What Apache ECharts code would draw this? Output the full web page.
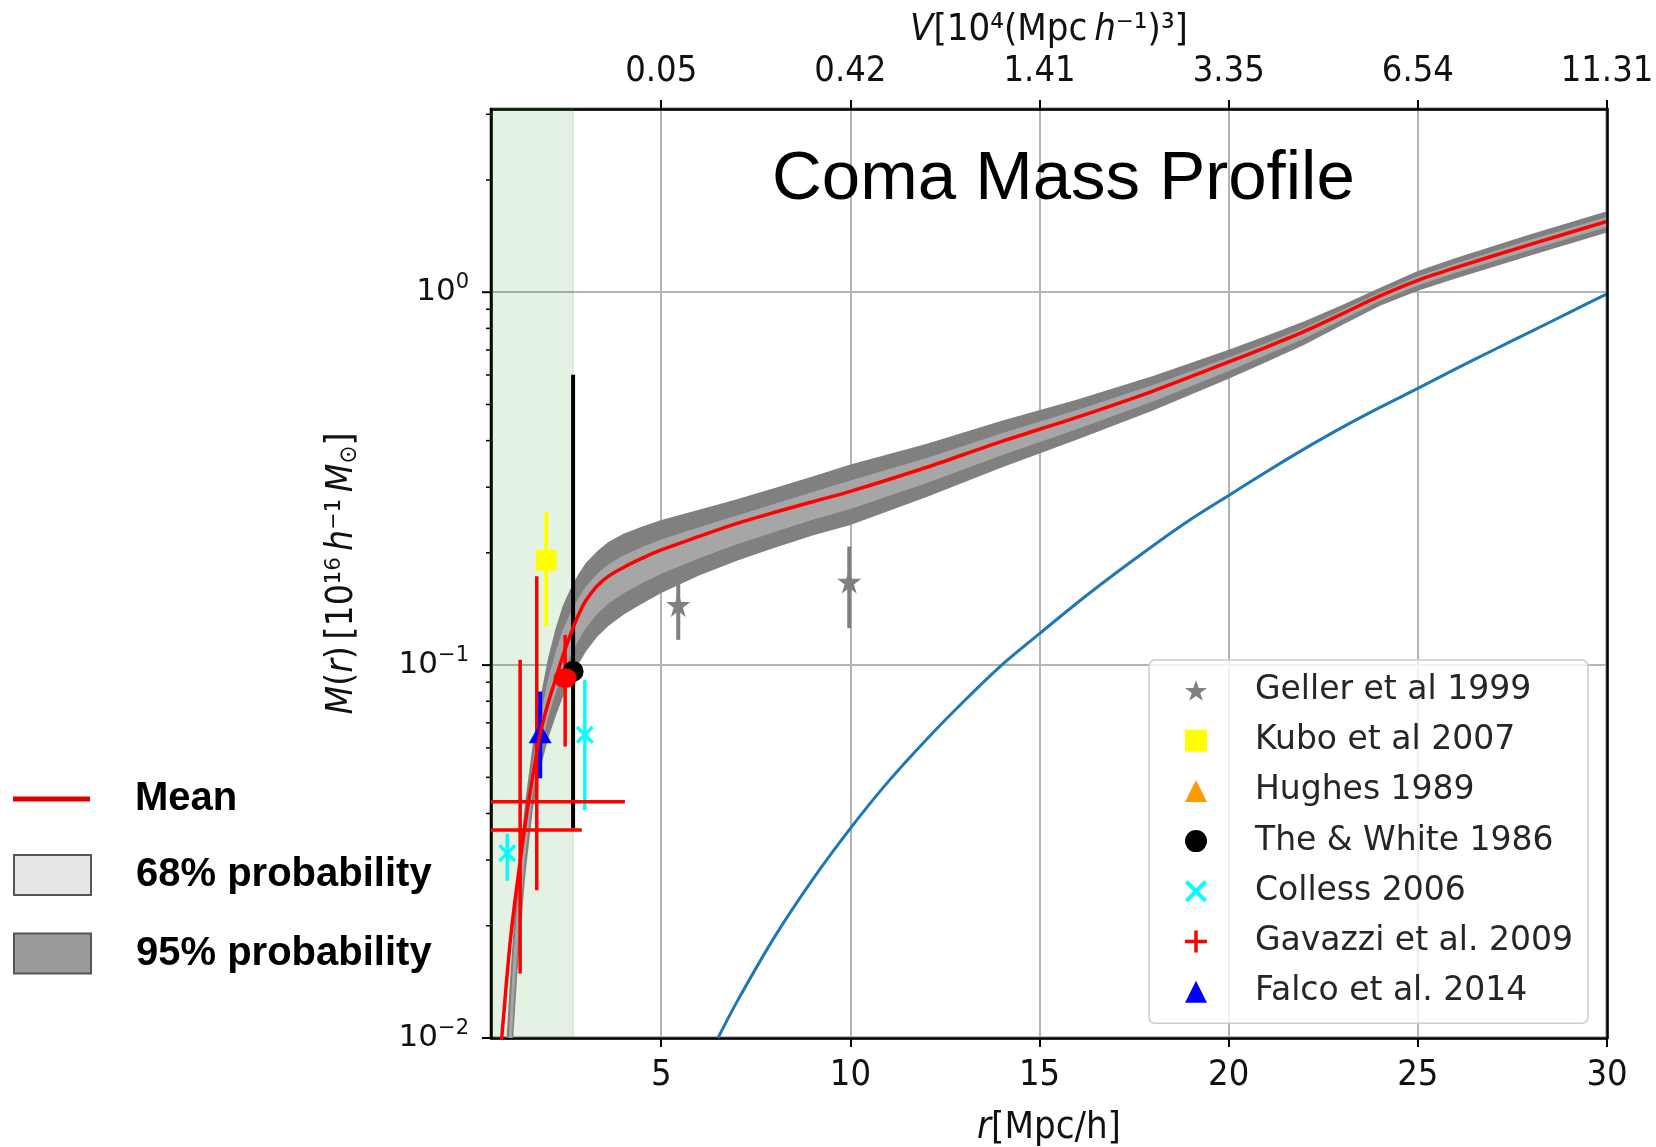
<!DOCTYPE html>
<html><head><meta charset="utf-8">
<script src="https://cdn.jsdelivr.net/npm/echarts@6/dist/echarts.min.js"></script>
<style>html,body{margin:0;padding:0;background:#fff}#c{width:1656px;height:1147px}</style>
</head><body><div id="c"></div>
<script>
// ---------- data ----------
const rGrid   = [0.75,0.85,0.9,1.0,1.1,1.2,1.4,1.6,1.8,2.0,2.2,2.4,2.6,2.8,3.0,3.3,3.6,4.0,4.5,5,6,7,8,9,10,12,14,16,18,20,21,22,23,24,25,26,28,30];
const meanMass = [0.00912,0.0120,0.0138,0.0178,0.0219,0.0263,0.0372,0.0501,0.0653,0.0785,0.0912,0.1059,0.1208,0.1355,0.1486,0.1629,0.173,0.1828,0.1936,0.2037,0.2213,0.2399,0.257,0.2742,0.2924,0.3388,0.3981,0.4624,0.5433,0.6501,0.7129,0.7852,0.875,0.9772,1.076,1.164,1.346,1.549];
const hi95 = [0.00447,0.00759,0.00955,0.01413,0.01995,0.02692,0.04266,0.06095,0.08128,0.1035,0.1245,0.1445,0.1603,0.1746,0.1875,0.2018,0.2138,0.2249,0.2355,0.2449,0.2612,0.2786,0.2985,0.3206,0.3451,0.3917,0.4519,0.5152,0.5957,0.7015,0.7638,0.8356,0.9247,1.028,1.140,1.236,1.432,1.648];
const lo95 = [0.00126,0.00251,0.00355,0.00631,0.01047,0.01514,0.02692,0.04074,0.05248,0.0631,0.07244,0.08222,0.0912,0.1,0.1084,0.1189,0.1274,0.1365,0.1462,0.156,0.1738,0.1905,0.2065,0.2228,0.2377,0.2818,0.3388,0.4027,0.4819,0.5861,0.6501,0.7228,0.8166,0.9204,1.009,1.089,1.256,1.445];
const hi68 = [0.00319,0.00566,0.00735,0.0114,0.01683,0.02312,0.03776,0.05483,0.07244,0.09078,0.1079,0.1245,0.138,0.1507,0.1622,0.1754,0.1862,0.1968,0.2075,0.2173,0.2344,0.2518,0.271,0.2911,0.3126,0.3589,0.4188,0.4831,0.5636,0.6683,0.7311,0.8035,0.8954,0.9977,1.104,1.194,1.384,1.592];
const lo68 = [0.00176,0.00337,0.00461,0.00782,0.01242,0.01762,0.03041,0.04529,0.05888,0.07194,0.08356,0.0955,0.1059,0.1159,0.1253,0.1368,0.1462,0.1556,0.166,0.1758,0.1936,0.2109,0.2275,0.2455,0.2624,0.3076,0.3656,0.4295,0.5093,0.6152,0.6792,0.7516,0.8433,0.9484,1.042,1.127,1.300,1.496];

const blueR    = [6.5,7,8,9,10,11,12,13,14,15,16,17,18,19,20,21,22,23,24,25,26,27,28,29,30];
const blueMass = [0.0100,0.0125,0.0187,0.0266,0.0365,0.0487,0.063,0.080,0.100,0.1215,0.147,0.176,0.209,0.246,0.285,0.330,0.380,0.434,0.491,0.552,0.623,0.700,0.785,0.882,0.99];

// error-bar points: [r, M, Mlow, Mhigh, rlow, rhigh]
const geller  = [[5.45,0.145,0.1169,0.1675],[9.97,0.1675,0.1256,0.208]];
const kubo    = [[1.96,0.191,0.127,0.257]];
const hughes  = [];
const theWhite= [[2.67,0.0962,0.0365,0.601]];
const colless = [[0.93,0.0313,0.0264,0.0353],[2.98,0.065,0.0409,0.0913]];
const gavazzi = [[1.27,0.0361,0.0149,0.1033,-0.36,2.9],[1.71,0.043,0.0249,0.173,-0.62,4.04]];
const gavazziDot = [[2.46,0.0922,0.0605,0.1205]];
const falco   = [[1.80,0.0657,0.0497,0.0849]];

const greenSpan = [0.5, 2.67];
const xMin = 0.5, xMax = 30, yMin = 0.01, yMax = 3.1;
const xTicks = [5,10,15,20,25,30];
const topTickLabels = ['0.05','0.42','1.41','3.35','6.54','11.31'];
const yMinorTicks = [0.02,0.03,0.04,0.05,0.06,0.07,0.08,0.09,0.2,0.3,0.4,0.5,0.6,0.7,0.8,0.9,2,3];
const yMajorTicks = [0.01,0.1,1];

// ---------- helpers ----------
const COND = "'DejaVu Sans Condensed','DejaVu Sans',sans-serif";
const STAR = 'path://M50,2 L61.8,36.2 L97.6,36.2 L68.6,57.4 L79.4,91.6 L50,70.4 L20.6,91.6 L31.4,57.4 L2.4,36.2 L38.2,36.2 Z';
const XMARK = 'path://M13,0 L50,37 L87,0 L100,13 L63,50 L100,87 L87,100 L50,63 L13,100 L0,87 L37,50 L0,13 Z';
const PLUS = 'path://M42,0 L58,0 L58,42 L100,42 L100,58 L58,58 L58,100 L42,100 L42,58 L0,58 L0,42 L42,42 Z';

function bandSeries(name, lo, hi, color) {
  return {
    name, type: 'custom', clip: true, silent: true,
    data: rGrid.map((r, i) => [r, lo[i], hi[i]]),
    encode: {x: 0, y: [1, 2]},
    renderItem: (params, api) => {
      if (params.dataIndex !== 0) return null;
      const pts = [];
      for (let i = 0; i < rGrid.length; i++) pts.push(api.coord([rGrid[i], hi[i]]));
      for (let i = rGrid.length - 1; i >= 0; i--) pts.push(api.coord([rGrid[i], lo[i]]));
      return {type: 'polygon', shape: {points: pts}, style: {fill: color}};
    }
  };
}
function errSeries(name, rows, color, width) {
  return {
    name, type: 'custom', clip: true, silent: true,
    data: rows.map(d => [d[0], d[1]]),
    encode: {x: 0, y: 1},
    renderItem: (params, api) => {
      const d = rows[params.dataIndex];
      const a = api.coord([d[0], d[2]]), b = api.coord([d[0], d[3]]);
      const ch = [{type: 'line', shape: {x1: a[0], y1: a[1], x2: b[0], y2: b[1]}, style: {stroke: color, lineWidth: width}}];
      if (d.length > 4) {
        const c = api.coord([d[4], d[1]]), e = api.coord([d[5], d[1]]);
        ch.push({type: 'line', shape: {x1: c[0], y1: c[1], x2: e[0], y2: e[1]}, style: {stroke: color, lineWidth: width}});
      }
      return {type: 'group', children: ch};
    }
  };
}
function markSeries(name, rows, symbol, size, color) {
  return {
    name, type: 'scatter', silent: true, symbol, symbolSize: size,
    data: rows.map(d => [d[0], d[1]]),
    itemStyle: {color, opacity: 1}
  };
}
const LEFT_FONT = {fontFamily: "'Liberation Sans',Arial,sans-serif", fontWeight: 'bold', fontSize: 40, color: '#000', padding: [0, 0, 0, 40]};

const chart = echarts.init(document.getElementById('c'));
chart.setOption({
  animation: false,
  backgroundColor: '#fff',
  title: {
    text: 'Coma Mass Profile', left: 772, top: 145, padding: 0,
    textStyle: {fontFamily: "'Liberation Sans',Arial,sans-serif", fontSize: 69, fontWeight: 'normal', color: '#000'}
  },
  grid: {left: 491, top: 109, width: 1116, height: 929, containLabel: false, outerBoundsMode: 'none',
         show: true, borderColor: '#000', borderWidth: 2.5, backgroundColor: 'transparent'},
  legend: [
    {
      orient: 'vertical', left: 1149, top: 660, padding: [14, 15, 15, 36],
      itemWidth: 22, itemHeight: 22, itemGap: 17.2, selectedMode: false,
      backgroundColor: 'rgba(255,255,255,0.8)', borderColor: '#cccccc', borderWidth: 1.5, borderRadius: 6,
      textStyle: {fontFamily: "'DejaVu Sans',sans-serif", fontSize: 33, color: '#262626', padding: [0, 0, 0, 43]},
      data: [
        {name: 'Geller et al 1999', icon: STAR, itemStyle: {color: '#808080', borderWidth: 0}},
        {name: 'Kubo et al 2007', icon: 'rect', itemStyle: {color: '#ffff00', borderWidth: 0}},
        {name: 'Hughes 1989', icon: 'triangle', itemStyle: {color: '#ff9900', borderWidth: 0}},
        {name: 'The & White 1986', icon: 'circle', itemStyle: {color: '#000000', borderWidth: 0}},
        {name: 'Colless 2006', icon: XMARK, itemStyle: {color: '#00ffff', borderWidth: 0}},
        {name: 'Gavazzi et al. 2009', icon: PLUS, itemStyle: {color: '#ff0000', borderWidth: 0}},
        {name: 'Falco et al. 2014', icon: 'triangle', itemStyle: {color: '#0000ff', borderWidth: 0}}
      ]
    },
    {
      orient: 'vertical', left: 13, top: 779, padding: 0,
      itemWidth: 77, itemHeight: 5, selectedMode: false,
      textStyle: LEFT_FONT,
      data: [{name: 'Mean', icon: 'rect', itemStyle: {color: '#e00000', borderWidth: 0}}]
    },
    {
      orient: 'vertical', left: 13, top: 854, padding: 0,
      itemWidth: 77, itemHeight: 40, itemGap: 36.5, selectedMode: false,
      textStyle: LEFT_FONT,
      data: [
        {name: '68% probability', icon: 'rect', itemStyle: {color: '#e6e6e6', borderColor: '#555', borderWidth: 2}},
        {name: '95% probability', icon: 'rect', itemStyle: {color: '#999999', borderColor: '#555', borderWidth: 2}}
      ]
    }
  ],
  xAxis: [
    {
      type: 'value', position: 'bottom', min: xMin, max: xMax,
      name: '{i|r}[Mpc/h]', nameLocation: 'middle', nameGap: 71,
      nameTextStyle: {fontFamily: COND, fontSize: 38, color: '#111', rich: {i: {fontFamily: COND, fontSize: 38, fontStyle: 'italic', color: '#111'}}},
      axisLine: {show: true, onZero: false, lineStyle: {color: '#000', width: 2.5}},
      axisTick: {show: true, length: 9, lineStyle: {color: '#000', width: 2}, customValues: xTicks},
      axisLabel: {show: true, margin: 20, fontFamily: COND, fontSize: 36, color: '#111', customValues: xTicks},
      splitLine: {show: true, lineStyle: {color: '#b4b4b4', width: 2}}
    },
    {
      type: 'value', position: 'top', min: xMin, max: xMax,
      name: '{i|V}[10⁴(Mpc\u2009{i|h}⁻¹)³]', nameLocation: 'middle', nameGap: 58,
      nameTextStyle: {fontFamily: COND, fontSize: 38, color: '#111', rich: {i: {fontFamily: COND, fontSize: 38, fontStyle: 'italic', color: '#111'}}},
      axisLine: {show: true, onZero: false, lineStyle: {color: '#000', width: 2.5}},
      axisTick: {show: true, length: 9, lineStyle: {color: '#000', width: 2}, customValues: xTicks},
      axisLabel: {show: true, margin: 19, fontFamily: COND, fontSize: 36, color: '#111', customValues: xTicks,
        formatter: v => topTickLabels[xTicks.indexOf(v)] || ''},
      splitLine: {show: false}
    }
  ],
  yAxis: [
    {
      type: 'log', logBase: 10, min: yMin, max: yMax,
      name: '{i|M}({i|r})\u2009[10¹⁶\u2009{i|h}⁻¹\u2009{i|M}{sub|⊙}]', nameLocation: 'middle', nameGap: 129, nameRotate: 90,
      nameTextStyle: {fontFamily: COND, fontSize: 37, color: '#111',
        rich: {i: {fontFamily: COND, fontSize: 37, fontStyle: 'italic', color: '#111'},
               sub: {fontFamily: COND, fontSize: 24, color: '#111', padding: [15, 0, 0, 0]}}},
      axisLine: {show: true, onZero: false, lineStyle: {color: '#000', width: 2.5}},
      axisTick: {show: false},
      axisLabel: {show: true, margin: 22, fontFamily: "'DejaVu Sans',sans-serif", fontSize: 31, color: '#111',
        formatter: v => {
          const e = Math.log10(v), r = Math.round(e);
          if (Math.abs(e - r) > 1e-6) return '';
          return '10{sup|' + (r < 0 ? '\u2212' + (-r) : r) + '}';
        },
        rich: {sup: {fontFamily: "'DejaVu Sans',sans-serif", fontSize: 21, color: '#111', padding: [0, 0, 19, 0]}}},
      splitLine: {show: true, lineStyle: {color: '#b4b4b4', width: 2}}
    },
    {
      type: 'log', logBase: 10, min: yMin, max: yMax, position: 'right', z: 10,
      axisLine: {show: true, onZero: false, lineStyle: {color: '#000', width: 2.5}},
      axisTick: {show: false}, axisLabel: {show: false}, splitLine: {show: false}
    }
  ],
  series: [
    {
      name: 'span', type: 'custom', clip: true, silent: true,
      data: [[greenSpan[0], greenSpan[1]]], encode: {x: [0, 1]},
      renderItem: (params, api) => {
        const a = api.coord([api.value(0), yMax]), b = api.coord([api.value(1), yMin]);
        return {type: 'rect', shape: {x: a[0], y: a[1], width: b[0] - a[0], height: b[1] - a[1]},
                style: {fill: 'rgba(0,128,0,0.105)', stroke: 'rgba(0,128,0,0.12)', lineWidth: 1.5}};
      }
    },
    bandSeries('95% probability', lo95, hi95, '#808080'),
    bandSeries('68% probability', lo68, hi68, '#a6a6a6'),
    {
      name: 'Mean', type: 'line', data: rGrid.map((r, i) => [r, meanMass[i]]),
      showSymbol: false, symbol: 'none', smooth: 0.3, clip: true, silent: true,
      lineStyle: {color: '#ff0000', width: 3.5}, itemStyle: {color: '#ff0000'}
    },
    {
      name: 'uniform', type: 'line', data: blueR.map((r, i) => [r, blueMass[i]]),
      showSymbol: false, symbol: 'none', smooth: 0.3, clip: true, silent: true,
      lineStyle: {color: '#1f77b4', width: 3}
    },
    errSeries('Geller et al 1999', geller, '#808080', 4),
    markSeries('Geller et al 1999', geller, STAR, 24, '#808080'),
    errSeries('Kubo et al 2007', kubo, '#ffff00', 4),
    markSeries('Kubo et al 2007', kubo, 'rect', 21, '#ffff00'),
    errSeries('Hughes 1989', hughes, '#ff9900', 4),
    markSeries('Hughes 1989', hughes, 'triangle', 21, '#ff9900'),
    errSeries('The & White 1986', theWhite, '#000000', 4),
    markSeries('The & White 1986', theWhite, 'circle', 21, '#000000'),
    errSeries('Colless 2006', colless, '#00ffff', 3.5),
    markSeries('Colless 2006', colless, XMARK, 18, '#00ffff'),
    errSeries('Gavazzi et al. 2009', gavazzi, '#ff0000', 3.5),
    markSeries('Gavazzi et al. 2009', gavazzi, PLUS, 14, '#ff0000'),
    errSeries('gavazziDot', gavazziDot, '#ff0000', 3.5),
    markSeries('gavazziDot', gavazziDot, 'circle', [23, 20], '#ff0000'),
    errSeries('Falco et al. 2014', falco, '#0000ff', 4),
    markSeries('Falco et al. 2014', falco, 'triangle', [23, 20], '#0000ff'),
    {
      name: 'yticks', type: 'custom', clip: false, silent: true,
      data: [[xMin, yMin]], encode: {x: 0, y: 1},
      renderItem: (params, api) => {
        const ch = [];
        yMajorTicks.forEach(v => { const p = api.coord([xMin, v]);
          ch.push({type: 'line', shape: {x1: p[0] - 9, y1: p[1], x2: p[0], y2: p[1]}, style: {stroke: '#000', lineWidth: 2}}); });
        yMinorTicks.forEach(v => { const p = api.coord([xMin, v]);
          ch.push({type: 'line', shape: {x1: p[0] - 5, y1: p[1], x2: p[0], y2: p[1]}, style: {stroke: '#000', lineWidth: 1.5}}); });
        return {type: 'group', children: ch};
      }
    }
  ]
});
</script>
</body></html>
